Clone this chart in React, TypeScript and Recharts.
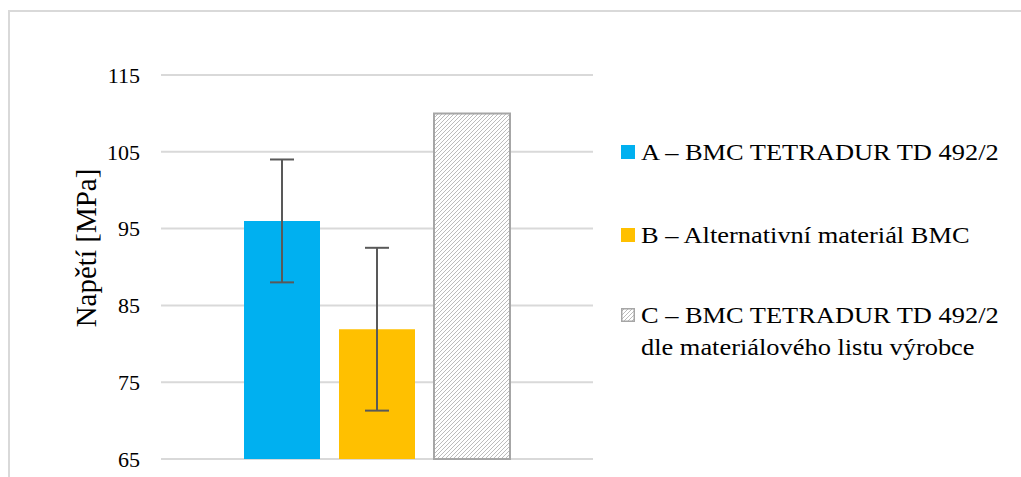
import React from 'react';
import { BarChart, Bar, XAxis, YAxis, CartesianGrid, ErrorBar } from 'recharts';

const seriesNames = [
  'A – BMC TETRADUR TD 492/2',
  'B – Alternativní materiál BMC',
  'C – BMC TETRADUR TD 492/2 dle materiálového listu výrobce',
];
const seriesKeys = ['A', 'B', 'C'];
const stressValues = [96, 81.9, 110];
const stressErrors = [8, 10.6, 0];
const yTicks = [65, 75, 85, 95, 105, 115];

const COLORS = ['#00b0f0', '#ffc000', 'url(#hatchC)'];
const FONT = '"Liberation Serif", "Times New Roman", serif';

const row: Record<string, number | string> = { name: '' };
seriesKeys.forEach((k, i) => {
  row[k] = stressValues[i];
  row[`err${k}`] = stressErrors[i];
});
const data = [row];

const LegendBox: React.FC = () => (
  <div style={{ position: 'absolute', left: 621, top: 136, width: 400, height: 230, fontFamily: FONT, fontSize: 24, color: '#000' }}>
    {seriesNames.map((name, i) => (
      <div key={i} style={{ position: 'absolute', left: 0, top: [0, 83, 163][i], display: 'flex', alignItems: 'flex-start', width: 400 }}>
        <svg width={14} height={14} style={{ marginTop: 9, marginRight: 6, flex: 'none' }}>
          <rect
            x={i === 2 ? 0.75 : 0}
            y={i === 2 ? 0.75 : 0}
            width={i === 2 ? 12.5 : 14}
            height={i === 2 ? 12.5 : 14}
            fill={COLORS[i]}
            stroke={i === 2 ? '#a6a6a6' : 'none'}
            strokeWidth={1.5}
          />
        </svg>
        <span style={{ lineHeight: '32px', display: 'inline-block', whiteSpace: 'nowrap', transformOrigin: 'left top', transform: 'scaleX(1.1)' }}>
          {i === 2 ? (
            <>
              C – BMC TETRADUR TD 492/2
              <br />
              dle materiálového listu výrobce
            </>
          ) : (
            name
          )}
        </span>
      </div>
    ))}
  </div>
);

export default function App() {
  return (
    <div style={{ position: 'absolute', left: 0, top: 0, width: 1021, height: 477, overflow: 'hidden', background: '#fff' }}>
      <svg width={0} height={0} style={{ position: 'absolute' }}>
        <defs>
          <pattern id="hatchC" width={4} height={4} patternUnits="userSpaceOnUse">
            <rect width={4} height={4} fill="#fff" />
            <path d="M-1,1 l2,-2 M0,4 l4,-4 M3,5 l2,-2" stroke="#bcbcbc" strokeWidth={1} />
          </pattern>
        </defs>
      </svg>
      <div
        style={{
          position: 'absolute',
          left: 8,
          top: 10,
          width: 1040,
          height: 500,
          border: '2px solid #d9d9d9',
          boxSizing: 'border-box',
        }}
      />
      <div style={{ position: 'absolute', left: 0, top: 0 }}>
        <BarChart
          width={1021}
          height={477}
          data={data}
          margin={{ top: 75, right: 428, bottom: 18, left: 0 }}
          barSize={76}
          barGap={19}
        >
          <CartesianGrid vertical={false} stroke="#d9d9d9" strokeWidth={2} />
          <XAxis dataKey="name" hide />
          <YAxis
            width={161}
            domain={[65, 115]}
            ticks={yTicks}
            interval={0}
            axisLine={false}
            tickLine={false}
            tickSize={0}
            tickMargin={21}
            tick={{ fontFamily: FONT, fontSize: 22, fill: '#000' }}
            label={{
              content: () => (
                <text
                  x={86}
                  y={248}
                  transform="rotate(-90 86 248)"
                  textAnchor="middle"
                  dominantBaseline="central"
                  fontFamily={FONT}
                  fontSize={29}
                  fill="#000"
                >
                  Napětí [MPa]
                </text>
              ),
            }}
          />
          {seriesKeys.map((k, i) => (
            <Bar
              key={k}
              dataKey={k}
              name={seriesNames[i]}
              fill={COLORS[i]}
              stroke={i === 2 ? '#a6a6a6' : 'none'}
              strokeWidth={i === 2 ? 2 : 0}
              isAnimationActive={false}
            >
              {stressErrors[i] > 0 && (
                <ErrorBar dataKey={`err${k}`} direction="y" width={12} stroke="#595959" strokeWidth={2} />
              )}
            </Bar>
          ))}
        </BarChart>
      </div>
      <LegendBox />
    </div>
  );
}
